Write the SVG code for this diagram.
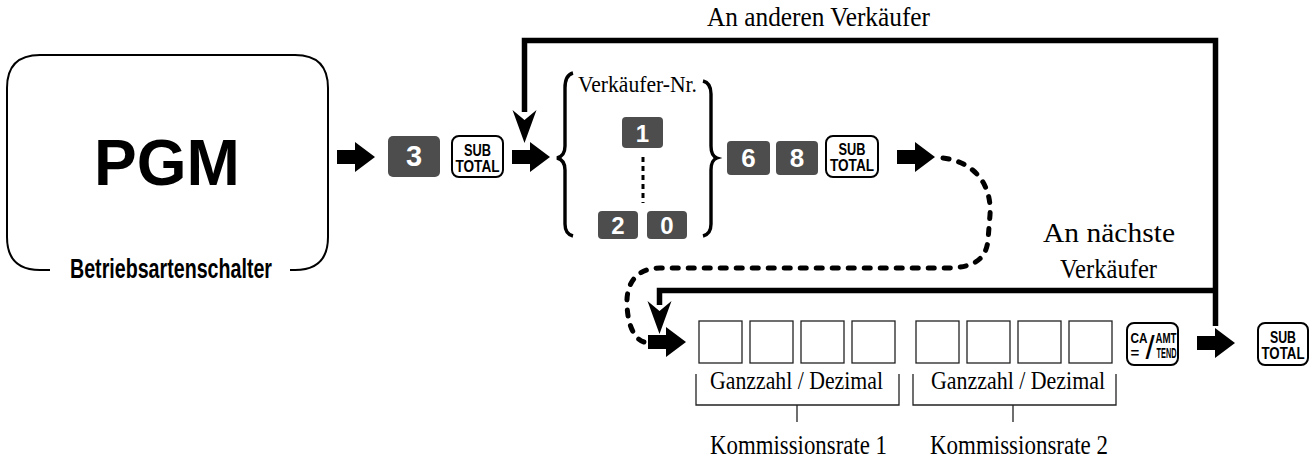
<svg xmlns="http://www.w3.org/2000/svg" width="1315" height="461" viewBox="0 0 1315 461">
<defs>
<style>
.serif{font-family:"Liberation Serif","Times New Roman",serif;fill:#000}
.sans{font-family:"Liberation Sans",Arial,sans-serif;font-weight:bold;fill:#000}
.dk{fill:#4d4d4d}
.dkt{fill:#fff;font-family:"Liberation Sans",Arial,sans-serif;font-weight:bold;text-anchor:middle}
.wk{fill:#fff;stroke:#000;stroke-width:2}
.wkt{fill:#000;font-family:"Liberation Sans",Arial,sans-serif;font-weight:bold}
.box{fill:#fff;stroke:#222;stroke-width:1.3}
.thin{fill:none;stroke:#222;stroke-width:1.3}
.loop{fill:none;stroke:#000;stroke-width:5.5}
.dots{fill:none;stroke:#000;stroke-width:5;stroke-dasharray:6 10;stroke-linecap:round}
.brace{fill:none;stroke:#000;stroke-width:3.4}
</style>
<path id="blk" d="M0,-7 H18 V-15 L38,0 L18,15 V7 H0 Z"/>
<path id="dhead" d="M-12,0 L0,10 L12,0 L0,33 Z"/>
</defs>
<rect width="1315" height="461" fill="#fff"/>

<g id="pgm">
<path d="M50,270 H40 Q7,270 7,237 V88 Q7,55 40,55 H295 Q328,55 328,88 V237 Q328,270 295,270 H290" fill="none" stroke="#000" stroke-width="2"/>
<text class="sans" x="167" y="185" font-size="64" text-anchor="middle">PGM</text>
<text class="sans" x="70" y="278" font-size="27" textLength="202" lengthAdjust="spacingAndGlyphs">Betriebsartenschalter</text>
</g>

<g id="connectors">
<use href="#blk" transform="translate(337,157)"/>
<use href="#blk" transform="translate(512,157)"/>
<use href="#blk" transform="translate(897,157)"/>
<use href="#blk" transform="translate(648,342)"/>
<use href="#blk" transform="translate(1197,343)"/>
<path class="loop" d="M524.5,112 V40.5 H1215.5 V326"/>
<path class="loop" d="M1215.5,290.5 H659.5 V305"/>
<use href="#dhead" transform="translate(524.5,110)"/>
<use href="#dhead" transform="translate(659.5,301)"/>
<path class="dots" d="M943,158 C975,162 992,185 990,215 L988,240 C986,262 970,268 945,268 L660,268 C635,268 626,285 627,305 C628,330 637,340 644,342"/>
</g>

<g id="label-top">
<text class="serif" x="707" y="26" font-size="27" textLength="223" lengthAdjust="spacingAndGlyphs">An anderen Verkäufer</text>
</g>
<g id="label-next">
<text class="serif" x="1043" y="242" font-size="28" textLength="132" lengthAdjust="spacingAndGlyphs">An nächste</text>
<text class="serif" x="1060" y="278" font-size="28" textLength="97" lengthAdjust="spacingAndGlyphs">Verkäufer</text>
</g>

<g id="key-3">
<rect class="dk" x="388" y="136" width="52" height="41" rx="5"/>
<text class="dkt" x="414" y="166" font-size="29">3</text>
</g>
<g id="key-subtotal-1">
<rect class="wk" x="452" y="136" width="51" height="41" rx="7"/>
<text class="wkt" x="464" y="156" font-size="16" textLength="27" lengthAdjust="spacingAndGlyphs">SUB</text>
<text class="wkt" x="455.5" y="172" font-size="16" textLength="44" lengthAdjust="spacingAndGlyphs">TOTAL</text>
</g>

<g id="verkaeufer-nr">
<path class="brace" d="M573,73 Q565,75 565,88 V146 Q565,156 557,158 Q565,160 565,170 V224 Q565,234 573,236"/>
<path class="brace" d="M703,81 Q711,83 711,94 V146 Q711,156 717,158 Q711,160 711,170 V224 Q711,234 703,236"/>
<text class="serif" x="578" y="92" font-size="24" textLength="119" lengthAdjust="spacingAndGlyphs">Verkäufer-Nr.</text>
<rect class="dk" x="622" y="117" width="41" height="31" rx="4"/>
<text class="dkt" x="642.5" y="142" font-size="24">1</text>
<path d="M643,157 V203" stroke="#000" stroke-width="3" stroke-dasharray="5 4" fill="none"/>
<rect class="dk" x="598" y="211" width="40" height="28" rx="4"/>
<text class="dkt" x="618" y="234" font-size="24">2</text>
<rect class="dk" x="647" y="211" width="40" height="28" rx="4"/>
<text class="dkt" x="667" y="234" font-size="24">0</text>
</g>

<g id="key-6">
<rect class="dk" x="727" y="141" width="43" height="34" rx="4"/>
<text class="dkt" x="748.5" y="167" font-size="26">6</text>
</g>
<g id="key-8">
<rect class="dk" x="776" y="141" width="42" height="34" rx="4"/>
<text class="dkt" x="797" y="167" font-size="26">8</text>
</g>
<g id="key-subtotal-2">
<rect class="wk" x="826" y="136" width="52" height="41" rx="7"/>
<text class="wkt" x="838.5" y="155" font-size="16" textLength="27" lengthAdjust="spacingAndGlyphs">SUB</text>
<text class="wkt" x="830" y="171" font-size="16" textLength="44" lengthAdjust="spacingAndGlyphs">TOTAL</text>
</g>

<g id="rate-1">
<rect class="box" x="699" y="321" width="43" height="42"/>
<rect class="box" x="750" y="321" width="43" height="42"/>
<rect class="box" x="801" y="321" width="43" height="42"/>
<rect class="box" x="852" y="321" width="43" height="42"/>
<path class="thin" d="M696,374 V405 H899 V374 M797,405 V422"/>
<text class="serif" x="710" y="389" font-size="26" textLength="173" lengthAdjust="spacingAndGlyphs">Ganzzahl / Dezimal</text>
<text class="serif" x="710" y="454" font-size="28" textLength="177" lengthAdjust="spacingAndGlyphs">Kommissionsrate 1</text>
</g>
<g id="rate-2">
<rect class="box" x="916" y="321" width="43" height="42"/>
<rect class="box" x="967" y="321" width="43" height="42"/>
<rect class="box" x="1018" y="321" width="43" height="42"/>
<rect class="box" x="1069" y="321" width="43" height="42"/>
<path class="thin" d="M913,374 V405 H1116 V374 M1013,405 V422"/>
<text class="serif" x="931" y="389" font-size="26" textLength="174" lengthAdjust="spacingAndGlyphs">Ganzzahl / Dezimal</text>
<text class="serif" x="930" y="454" font-size="28" textLength="178" lengthAdjust="spacingAndGlyphs">Kommissionsrate 2</text>
</g>

<g id="key-ca-amt">
<rect class="wk" x="1127" y="323" width="51" height="42" rx="7"/>
<text class="wkt" x="1130.5" y="343" style="font-size:15px" textLength="17" lengthAdjust="spacingAndGlyphs">CA</text>
<text class="wkt" x="1155.5" y="343" style="font-size:15px" textLength="21" lengthAdjust="spacingAndGlyphs">AMT</text>
<text class="wkt" x="1145.5" y="359" style="font-size:33px;font-weight:normal">/</text>
<text class="wkt" x="1130.5" y="357.5" style="font-size:15px">=</text>
<text class="wkt" x="1156.5" y="357.5" style="font-size:15px" textLength="20" lengthAdjust="spacingAndGlyphs">TEND</text>
</g>
<g id="key-subtotal-3">
<rect class="wk" x="1258" y="323" width="50" height="42" rx="7"/>
<text class="wkt" x="1270" y="343" font-size="16" textLength="26" lengthAdjust="spacingAndGlyphs">SUB</text>
<text class="wkt" x="1261.5" y="359" font-size="16" textLength="43" lengthAdjust="spacingAndGlyphs">TOTAL</text>
</g>
</svg>
